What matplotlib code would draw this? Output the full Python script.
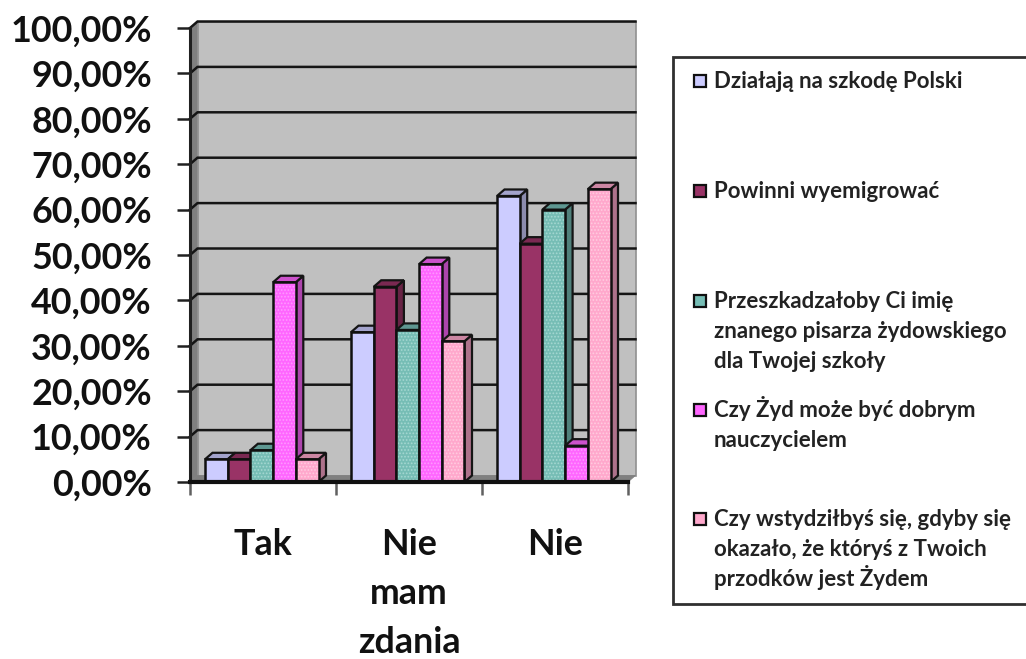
import matplotlib.pyplot as plt
from matplotlib.patches import Polygon, Rectangle
from matplotlib.colors import to_rgb
import numpy as np

plt.rcParams['font.family'] = ['Lato', 'DejaVu Sans']
plt.rcParams['hatch.linewidth'] = 0.8

categories = ['Tak', 'Nie\nmam\nzdania', 'Nie']
series = ['Działają na szkodę Polski',
          'Powinni wyemigrować',
          'Przeszkadzałoby Ci imię\nznanego pisarza żydowskiego\ndla Twojej szkoły',
          'Czy Żyd może być dobrym\nnauczycielem',
          'Czy wstydziłbyś się, gdyby się\nokazało, że któryś z Twoich\nprzodków jest Żydem']
dzialaja = [5, 33, 63]
powinni = [5, 43, 52.5]
imie = [7, 33.5, 60]
nauczyciel = [44, 48, 8]
wstyd = [5, 31, 64.5]
values = [dzialaja, powinni, imie, nauczyciel, wstyd]

colors = ['#CCCCFF', '#993366', '#76BDB5', '#FF66FF', '#FFA8CC']
hatch_colors = [None, None, '#A5D8D2', '#FF99FF', '#FFCCE0']
legend_y = [81, 191, 301, 410, 519]

W, H = 1026, 659
fig = plt.figure(figsize=(W / 100, H / 100), dpi=100)
ax = fig.add_axes([190 / W, 1 - 482 / H, 438 / W, 454 / H])
ax.set_xlim(0, 3)
ax.set_ylim(0, 100)
ax.patch.set_visible(False)
for s in ax.spines.values():
    s.set_visible(False)

# depth of the fake 3d, in data units
dx = 7.5 / 146
dy = 6.5 / 4.54
bw = 22.7 / 146


def shade(c, f):
    return tuple(v * f for v in to_rgb(c))


def poly(pts, fc, ec='#151515', lw=1.6, z=1):
    ax.add_patch(Polygon(pts, closed=True, fc=fc, ec=ec, lw=lw, zorder=z, clip_on=False))


# walls and floor
poly([(0, 100), (dx, 100 + dy), (dx, dy), (0, 0)], '#808080', ec='#808080', lw=0.5)
poly([(dx, 100 + dy), (3 + dx, 100 + dy), (3 + dx, dy), (dx, dy)], '#C0C0C0', ec='#909090', lw=1.2)
poly([(0, 0), (dx, dy), (3 + dx, dy), (3, 0)], '#808080', ec='#808080', lw=0.5)

# gridlines on back wall
yt = np.arange(0, 101, 10)
for v in yt:
    if v > 0:
        ax.plot([0, dx, 3 + dx], [v, v + dy, v + dy], color='#151515', lw=1.8, zorder=2,
                clip_on=False, solid_joinstyle='miter')

# bars, left to right so that next bar hides the side of previous one
for g in range(3):
    for i in range(5):
        v = values[i][g]
        x0 = g + 15 / 146 + i * bw
        x1 = x0 + bw
        z = 3 + g * 5 + i
        poly([(x1, 0), (x1 + dx, dy), (x1 + dx, v + dy), (x1, v)], shade(colors[i], 0.68), z=z)
        poly([(x0, v), (x0 + dx, v + dy), (x1 + dx, v + dy), (x1, v)], shade(colors[i], 0.8), z=z)
        ax.bar(x0, v, bw, align='edge', color=colors[i], edgecolor=hatch_colors[i] or colors[i],
               hatch='.....' if hatch_colors[i] else None, lw=0, zorder=z, clip_on=False)
        ax.bar(x0, v, bw, align='edge', fill=False, edgecolor='#101010', lw=1.8, zorder=z,
               clip_on=False)

# axes lines and ticks
ax.plot([0, 0], [0, 100], color='#202020', lw=2.2, zorder=40, clip_on=False)
ax.plot([0, 3], [0, 0], color='#101010', lw=3, zorder=40, clip_on=False)

ax.set_yticks(yt)
ax.set_yticklabels(['%d,00%%' % v for v in yt], fontsize=25.8, fontweight='bold', color='#111111')
ax.tick_params(axis='y', length=9.5, width=1.8, color='#202020', pad=18)
ax.set_xticks([0, 1, 2, 3])
ax.set_xticklabels([])
ax.tick_params(axis='x', length=9.5, width=1.8, color='#606060')
ax.set_xticks([0.5, 1.5, 2.5], minor=True)
ax.set_xticklabels(categories, minor=True, fontsize=25.8, fontweight='bold', color='#111111',
                   linespacing=1.6)
ax.tick_params(axis='x', which='minor', length=0, pad=33)

# legend box runs past right edge of the image
fig.add_artist(Rectangle((673 / W, 1 - 604 / H), 400 / W, 547 / H, transform=fig.transFigure,
                         fc='white', ec='#303030', lw=2))
for label, c, y in zip(series, colors, legend_y):
    fig.add_artist(Rectangle((694 / W, 1 - (y + 6) / H), 12 / W, 12 / H, transform=fig.transFigure,
                             fc=c, ec='#101010', lw=1.6))
    # one text per line, matplotlib spacing jumps on lines with Ż
    for k, line in enumerate(label.split('\n')):
        fig.text(714 / W, 1 - (y + 7 + k * 30) / H, line, fontsize=16, fontweight='bold',
                 color='#222222', va='baseline', ha='left')

fig.savefig('out.png', dpi=100)
